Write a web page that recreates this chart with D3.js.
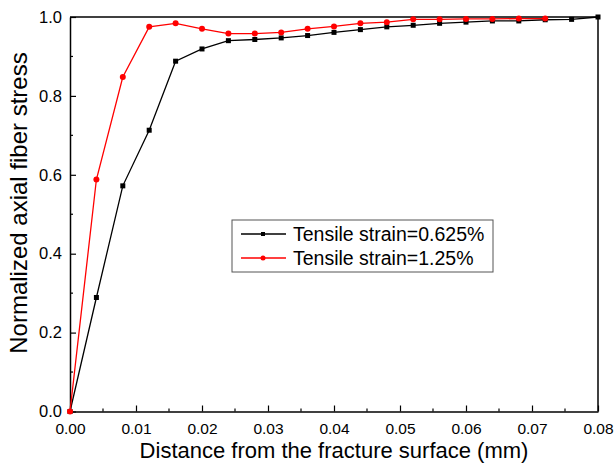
<!DOCTYPE html>
<html>
<head>
<meta charset="utf-8">
<script src="https://cdn.jsdelivr.net/npm/d3@7"></script>
<style>
  html, body { margin: 0; padding: 0; background: #fff; }
  svg { display: block; font-family: Arial, "Liberation Sans", sans-serif; }
</style>
</head>
<body>
<svg id="chart" width="614" height="464"></svg>
<script>
// distances (mm)
const distances = [0, 0.004, 0.008, 0.012, 0.016, 0.020, 0.024, 0.028, 0.032, 0.036,
  0.040, 0.044, 0.048, 0.052, 0.056, 0.060, 0.064, 0.068, 0.072, 0.076, 0.080];
const stressLow = [0, 0.289, 0.572, 0.713, 0.888, 0.919, 0.940, 0.943, 0.947, 0.953,
  0.961, 0.968, 0.975, 0.979, 0.984, 0.987, 0.990, 0.990, 0.993, 0.994, 1.0];
const stressHigh = [0, 0.588, 0.848, 0.975, 0.984, 0.970, 0.958, 0.958, 0.961, 0.970,
  0.976, 0.984, 0.987, 0.994, 0.994, 0.995, 0.995, 0.996, 0.996];
const seriesNames = ["Tensile strain=0.625%", "Tensile strain=1.25%"];
const xTicks = [0, 0.01, 0.02, 0.03, 0.04, 0.05, 0.06, 0.07, 0.08];
const yTicks = [0, 0.2, 0.4, 0.6, 0.8, 1.0];

const svg = d3.select("#chart");
const margin = { top: 17, right: 16, bottom: 52.5, left: 70 };
const width = 614 - margin.left - margin.right;
const height = 464 - margin.top - margin.bottom;

const x = d3.scaleLinear().domain([0, 0.08]).range([0, width]);
const y = d3.scaleLinear().domain([0, 1]).range([height, 0]);

const g = svg.append("g").attr("transform", `translate(${margin.left},${margin.top})`);

// minor ticks
const minorX = d3.range(0.005, 0.08, 0.01);
const minorY = d3.range(0.1, 1.0, 0.2);

const xAxis = d3.axisBottom(x).tickValues(xTicks).tickFormat(d3.format(".2f"))
  .tickSizeInner(-6).tickSizeOuter(0).tickPadding(11);
const yAxis = d3.axisLeft(y).tickValues(yTicks).tickFormat(d3.format(".1f"))
  .tickSizeInner(-6).tickSizeOuter(0).tickPadding(8);

const gx = g.append("g").attr("transform", `translate(0,${height})`).call(xAxis);
const gy = g.append("g").call(yAxis);

[gx, gy].forEach(a => {
  a.select(".domain").attr("stroke", "#000").attr("stroke-width", 1.5);
  a.selectAll(".tick line").attr("stroke", "#000").attr("stroke-width", 1.2);
  a.selectAll(".tick text").attr("fill", "#000");
});
gx.selectAll(".tick text").style("font-size", "15.5px");
gy.selectAll(".tick text").style("font-size", "16.5px");

g.append("g").selectAll("line").data(minorX).join("line")
  .attr("x1", d => x(d)).attr("x2", d => x(d))
  .attr("y1", height).attr("y2", height - 3)
  .attr("stroke", "#000").attr("stroke-width", 1.2);
g.append("g").selectAll("line").data(minorY).join("line")
  .attr("y1", d => y(d)).attr("y2", d => y(d))
  .attr("x1", 0).attr("x2", 3)
  .attr("stroke", "#000").attr("stroke-width", 1.2);

// frame top and right
g.append("line").attr("x1", 0).attr("x2", width).attr("y1", 0).attr("y2", 0)
  .attr("stroke", "#000").attr("stroke-width", 1.5);
g.append("line").attr("x1", width).attr("x2", width).attr("y1", 0).attr("y2", height)
  .attr("stroke", "#000").attr("stroke-width", 1.5);

// axis titles
svg.append("text")
  .attr("x", margin.left + width / 2).attr("y", 458)
  .attr("text-anchor", "middle").style("font-size", "22px")
  .text("Distance from the fracture surface (mm)");
svg.append("text")
  .attr("transform", `translate(27,203) rotate(-90)`)
  .attr("text-anchor", "middle").style("font-size", "24px")
  .text("Normalized axial fiber stress");

// series
const lowData = stressLow.map((v, i) => [distances[i], v]);
const highData = stressHigh.map((v, i) => [distances[i], v]);
const line = d3.line().x(d => x(d[0])).y(d => y(d[1]));

g.append("path").datum(lowData).attr("d", line)
  .attr("fill", "none").attr("stroke", "#000").attr("stroke-width", 1.3);
g.append("g").selectAll("rect").data(lowData).join("rect")
  .attr("x", d => x(d[0]) - 2.5).attr("y", d => y(d[1]) - 2.5)
  .attr("width", 5).attr("height", 5).attr("fill", "#000");

g.append("path").datum(highData).attr("d", line)
  .attr("fill", "none").attr("stroke", "#ff0000").attr("stroke-width", 1.3);
g.append("g").selectAll("circle").data(highData).join("circle")
  .attr("cx", d => x(d[0])).attr("cy", d => y(d[1]))
  .attr("r", 3).attr("fill", "#ff0000");

// legend
const legend = svg.append("g");
legend.append("rect")
  .attr("x", 232).attr("y", 220).attr("width", 261).attr("height", 52)
  .attr("fill", "#fff").attr("stroke", "#555").attr("stroke-width", 1);
const colors = ["#000", "#ff0000"];
seriesNames.forEach((name, i) => {
  const cy = 234 + i * 24;
  legend.append("line").attr("x1", 241).attr("x2", 286).attr("y1", cy).attr("y2", cy)
    .attr("stroke", colors[i]).attr("stroke-width", 1.3);
  if (i === 0) {
    legend.append("rect").attr("x", 261).attr("y", cy - 2).attr("width", 4).attr("height", 4)
      .attr("fill", colors[i]);
  } else {
    legend.append("circle").attr("cx", 263).attr("cy", cy).attr("r", 2.5).attr("fill", colors[i]);
  }
  legend.append("text").attr("x", 293).attr("y", cy + 7)
    .style("font-size", "19.5px").text(name);
});
</script>
</body>
</html>
